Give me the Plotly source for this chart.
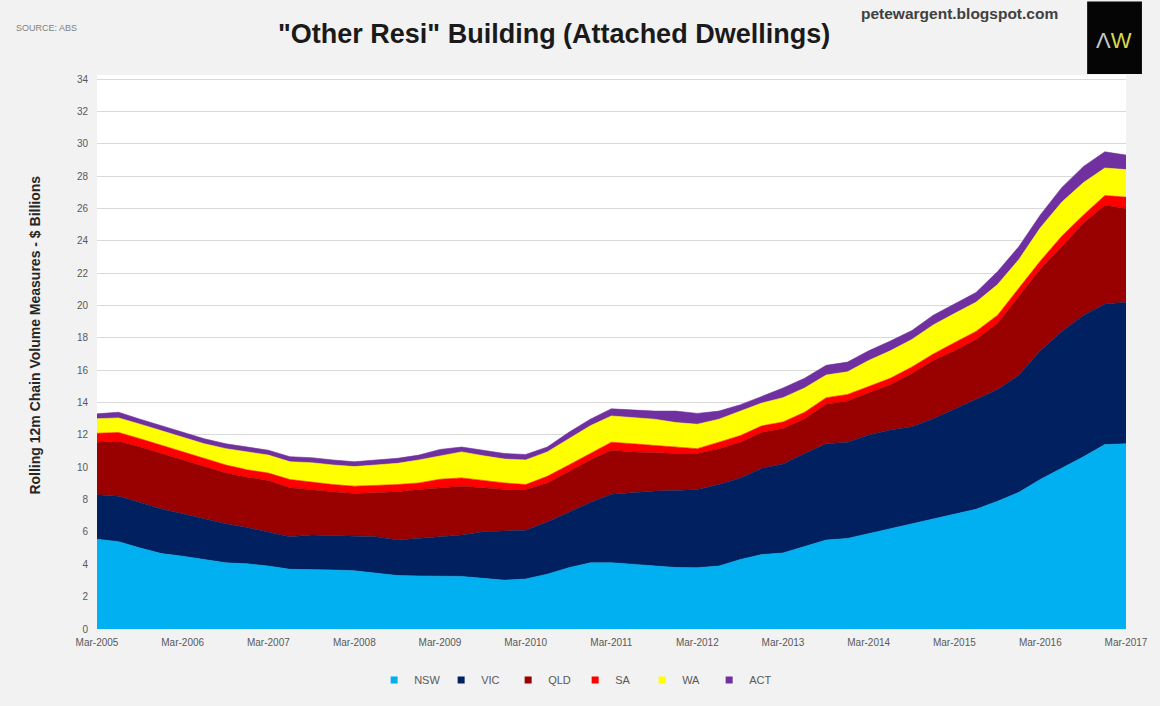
import plotly.graph_objects as go

quarters = [
    "2005-03-01", "2005-06-01", "2005-09-01", "2005-12-01",
    "2006-03-01", "2006-06-01", "2006-09-01", "2006-12-01",
    "2007-03-01", "2007-06-01", "2007-09-01", "2007-12-01",
    "2008-03-01", "2008-06-01", "2008-09-01", "2008-12-01",
    "2009-03-01", "2009-06-01", "2009-09-01", "2009-12-01",
    "2010-03-01", "2010-06-01", "2010-09-01", "2010-12-01",
    "2011-03-01", "2011-06-01", "2011-09-01", "2011-12-01",
    "2012-03-01", "2012-06-01", "2012-09-01", "2012-12-01",
    "2013-03-01", "2013-06-01", "2013-09-01", "2013-12-01",
    "2014-03-01", "2014-06-01", "2014-09-01", "2014-12-01",
    "2015-03-01", "2015-06-01", "2015-09-01", "2015-12-01",
    "2016-03-01", "2016-06-01", "2016-09-01", "2016-12-01",
    "2017-03-01",
]

nsw = [5.55, 5.40, 5.00, 4.66, 4.50, 4.30, 4.09, 4.03, 3.89, 3.69, 3.69, 3.65,
       3.60, 3.45, 3.30, 3.28, 3.25, 3.25, 3.13, 3.02, 3.09, 3.39, 3.79, 4.09,
       4.10, 4.00, 3.90, 3.80, 3.79, 3.89, 4.30, 4.60, 4.70, 5.10, 5.50, 5.60,
       5.90, 6.20, 6.50, 6.80, 7.10, 7.40, 7.90, 8.45, 9.25, 9.95, 10.65, 11.40,
       11.45]
vic = [2.75, 2.80, 2.82, 2.76, 2.62, 2.52, 2.42, 2.24, 2.12, 2.02, 2.12, 2.12,
       2.15, 2.26, 2.20, 2.33, 2.48, 2.56, 2.88, 3.05, 3.02, 3.22, 3.43, 3.73,
       4.23, 4.43, 4.63, 4.77, 4.84, 5.04, 5.04, 5.34, 5.50, 5.75, 5.95, 5.95,
       6.10, 6.10, 6.00, 6.20, 6.50, 6.80, 6.90, 7.25, 7.95, 8.45, 8.75, 8.70,
       8.75]
qld = [3.25, 3.40, 3.43, 3.43, 3.33, 3.22, 3.13, 3.11, 3.17, 3.02, 2.82, 2.72,
       2.62, 2.72, 2.99, 3.02, 2.98, 3.02, 2.72, 2.56, 2.52, 2.42, 2.52, 2.63,
       2.72, 2.52, 2.38, 2.28, 2.22, 2.22, 2.21, 2.22, 2.20, 2.15, 2.45, 2.55,
       2.60, 2.80, 3.30, 3.60, 3.60, 3.70, 4.10, 4.90, 5.05, 5.25, 5.70, 6.10,
       5.80]
sa = [0.55, 0.55, 0.51, 0.50, 0.50, 0.51, 0.50, 0.46, 0.46, 0.51, 0.46, 0.44,
      0.46, 0.44, 0.44, 0.40, 0.55, 0.51, 0.45, 0.40, 0.30, 0.41, 0.40, 0.40,
      0.50, 0.50, 0.44, 0.40, 0.30, 0.40, 0.41, 0.40, 0.40, 0.40, 0.40, 0.40,
      0.40, 0.40, 0.40, 0.40, 0.50, 0.50, 0.50, 0.50, 0.50, 0.65, 0.50, 0.60,
      0.70]
wa = [0.90, 0.90, 0.90, 0.91, 0.91, 0.90, 1.01, 1.11, 1.11, 1.10, 1.19, 1.21,
      1.21, 1.27, 1.31, 1.42, 1.44, 1.61, 1.53, 1.48, 1.52, 1.51, 1.62, 1.71,
      1.62, 1.62, 1.62, 1.51, 1.51, 1.42, 1.51, 1.41, 1.50, 1.50, 1.40, 1.40,
      1.60, 1.70, 1.70, 1.80, 1.80, 1.80, 1.90, 1.75, 2.05, 2.10, 2.00, 1.70,
      1.70]
act = [0.30, 0.35, 0.31, 0.30, 0.30, 0.31, 0.30, 0.30, 0.30, 0.31, 0.31, 0.31,
       0.30, 0.31, 0.31, 0.30, 0.40, 0.30, 0.34, 0.34, 0.34, 0.30, 0.40, 0.41,
       0.44, 0.46, 0.50, 0.71, 0.67, 0.50, 0.40, 0.41, 0.60, 0.60, 0.60, 0.60,
       0.60, 0.60, 0.55, 0.60, 0.60, 0.60, 0.80, 0.80, 0.80, 0.90, 1.00, 1.00,
       0.90]

series_names = ["NSW", "VIC", "QLD", "SA", "WA", "ACT"]
series_values = [nsw, vic, qld, sa, wa, act]
series_colors = ["#00b0f0", "#002060", "#990000", "#ff0000", "#ffff00", "#7030a0"]

y_ticks = list(range(0, 35, 2))

fig = go.Figure()
for name, vals, col in zip(series_names, series_values, series_colors):
    fig.add_trace(go.Scatter(
        x=quarters, y=vals, name=name, stackgroup="one", mode="lines",
        line=dict(width=0.6, color=col), fillcolor=col, showlegend=False,
        hoverinfo="x+y+name",
    ))
for name, col in zip(series_names, series_colors):
    fig.add_trace(go.Scatter(
        x=[None], y=[None], name=name, mode="markers",
        marker=dict(symbol="square", size=7, color=col), showlegend=True,
    ))

L, R, T, B = 97, 30, 75, 65
W, H = 1160, 706
pw, ph = W - L - R, H - T - B


def px_x(px):
    return (px - L) / pw


def px_y(py):
    return (H - B - py) / ph


narrow = "Liberation Sans Narrow, Arial Narrow, Liberation Sans, Arial, sans-serif"

fig.update_layout(
    width=W, height=H,
    margin=dict(l=L, r=R, t=T, b=B),
    paper_bgcolor="#f2f2f2",
    plot_bgcolor="#ffffff",
    font=dict(family=narrow, color="#595959", size=10),
    xaxis=dict(
        type="date", range=["2005-03-01", "2017-03-01"],
        tick0="2005-03-01", dtick="M12", tickformat="%b-%Y",
        showgrid=False, zeroline=False, showline=False, ticks="",
        tickfont=dict(size=10, color="#595959", family=narrow),
        ticklabelstandoff=6,
    ),
    yaxis=dict(
        range=[0, 34.25], tickvals=y_ticks, showgrid=True,
        gridcolor="#d9d9d9", gridwidth=1, zeroline=False, showline=False,
        ticks="", tickfont=dict(size=10, color="#595959", family=narrow),
        ticklabelstandoff=8,
    ),
    legend=dict(
        orientation="h", x=px_x(577), xanchor="center", y=px_y(693),
        yanchor="middle", font=dict(size=11, color="#595959", family=narrow),
        bgcolor="rgba(0,0,0,0)", itemwidth=30, tracegroupgap=0,
        traceorder="normal", entrywidth=22, entrywidthmode="pixels",
    ),
    showlegend=True,
)

fig.add_annotation(
    x=px_x(556), y=px_y(33), xref="paper", yref="paper",
    text='<b>"Other Resi" Building (Attached Dwellings)</b>', showarrow=False,
    font=dict(size=27, color="#1a1a1a", family=narrow),
    xanchor="center", yanchor="middle",
)
fig.add_annotation(
    x=px_x(14), y=px_y(27), xref="paper", yref="paper", text="SOURCE: ABS",
    showarrow=False, font=dict(size=9, color="#7f7f7f", family=narrow),
    xanchor="left", yanchor="middle",
)
fig.add_annotation(
    x=px_x(862), y=px_y(12), xref="paper", yref="paper",
    text="<b>petewargent.blogspot.com</b>", showarrow=False,
    font=dict(size=15.5, color="#404040", family=narrow),
    xanchor="left", yanchor="middle",
)
fig.add_annotation(
    x=px_x(35), y=px_y(341), xref="paper", yref="paper",
    text="<b>Rolling 12m Chain Volume Measures - $ Billions</b>",
    showarrow=False, textangle=-90,
    font=dict(size=14, color="#262626", family=narrow),
    xanchor="center", yanchor="middle",
)
fig.add_shape(
    type="rect", xref="paper", yref="paper",
    x0=px_x(1091), x1=px_x(1146), y0=px_y(74), y1=px_y(0),
    fillcolor="#050505", line=dict(width=0), layer="above",
)
fig.add_annotation(
    x=px_x(1118), y=px_y(40), xref="paper", yref="paper",
    text="<span style='color:#c8c8c8'>Λ</span><span style='color:#d8d84a'>W</span>",
    showarrow=False, font=dict(size=22, family="Liberation Sans, Arial"),
    xanchor="center", yanchor="middle",
)

fig.write_html(
    "out.html",
    config={"displayModeBar": False},
    post_script="document.body.style.margin='0';document.body.style.padding='0';",
)
